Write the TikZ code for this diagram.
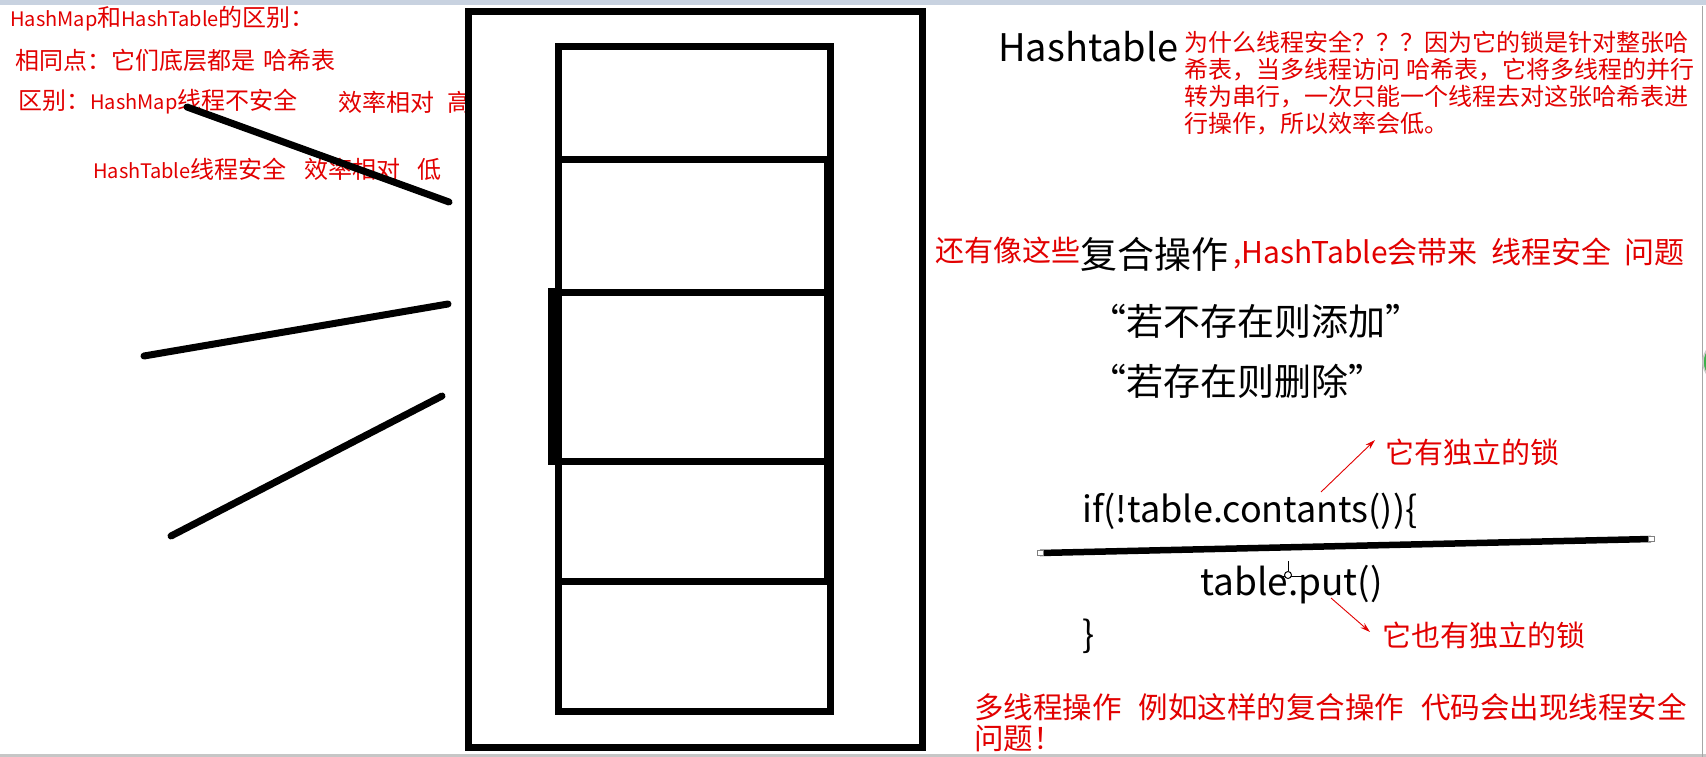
\documentclass[tikz,border=0pt]{standalone}
\usepackage{fontspec}
\setmainfont{Noto Sans CJK SC}
\usetikzlibrary{arrows.meta}
\definecolor{rd}{RGB}{226,0,0}
\definecolor{topbar}{RGB}{200,210,224}
\newcommand\fsz[1]{\fontsize{#1}{#1}\selectfont}
\newcommand\latn[1]{{\fontsize{20}{20}\selectfont #1}}
\begin{document}
\begin{tikzpicture}[x=1pt,y=-1pt,
  redL/.style={text=rd, inner sep=0pt, anchor=west},
  redS/.style={redL, font=\fsz{24}},
  blkL/.style={text=black, inner sep=0pt, anchor=west},
  stroke/.style={line width=7pt, line cap=round},
  cell/.style={line width=7pt},
  thinarrow/.style={draw=rd, line width=0.9pt, -{Stealth[length=10pt,width=6pt]}},
  handle/.style={draw=gray, fill=white, line width=0.7pt, minimum width=6pt, minimum height=5pt, inner sep=0pt}
]
\useasboundingbox (0,0) rectangle (1706,757);
\fill[white] (0,0) rectangle (1706,757);
% screenshot frame
\fill[topbar] (0,0) rectangle (1706,5);
\fill[gray!45] (0,754) rectangle (1706,757);
\draw[gray!70, line width=1pt] (1702,6) -- (1702,757);
\begin{scope}
\clip (0,0) rectangle (1706,757);
\draw[gray!40, line width=1.5pt, fill={rgb,255:red,60;green,176;blue,74}] (1724,362) circle (21);
\end{scope}

% left red notes
\node[redS] (t1) at (10,19) {\latn{HashMap}和\latn{HashTable}的区别：};
\node[redS] (t2) at (15,60) {相同点：它们底层都是\hspace{8pt}哈希表};
\node[redS] (t3) at (18,102) {区别：\latn{HashMap}线程不安全};
\node[redS] (t3b) at (338,102) {效率相对\hspace{13pt}高};
\node[redS] (t4) at (93,169) {\latn{HashTable}线程安全\hspace{18pt}效率相对\hspace{17pt}低};

% hand strokes
\coordinate (s1a) at (187,107); \coordinate (s1b) at (449,202);
\coordinate (s2a) at (144,356); \coordinate (s2b) at (448,304);
\coordinate (s3a) at (171,536); \coordinate (s3b) at (442,396);
\draw[stroke] (s1a) -- (s1b);
\draw[stroke] (s2a) -- (s2b);
\draw[stroke] (s3a) -- (s3b);

% outer frame
\draw[cell] (468.5,11.5) rectangle (922.5,747);
% inner table
\draw[cell] (558,46.5) rectangle (830,711);
\draw[cell] (558,160) -- (830,160);
\draw[cell] (558,292) -- (830,292);
\draw[cell] (558,461.5) -- (830,461.5);
\draw[cell] (558,581.5) -- (830,581.5);
\draw[line width=9pt] (828.5,160) -- (828.5,581.5);
\fill (548,288) rectangle (562,465);

% right side
\node[blkL, font=\fsz{38}] (ht) at (998,47) {Hashtable};
\node[text=rd, inner sep=0pt, anchor=north west, align=left, font=\fontsize{24}{27}\selectfont] (why) at (1184,31)
  {为什么线程安全？？？因为它的锁是针对整张哈\\希表，当多线程访问\hspace{6pt}哈希表，它将多线程的并行\\转为串行，一次只能一个线程去对这张哈希表进\\行操作，所以效率会低。};

\node[redL, font=\fsz{29}] (also) at (935,250) {还有像这些};
\node[blkL, font=\fsz{37}] (comp) at (1080,254) {复合操作};
\node[redL, font=\fsz{30}] (bring) at (1233,254) {,HashTable会带来\hspace{14pt}线程安全\hspace{13pt}问题};
\node[blkL, font=\fsz{37}] (q1) at (1089,321) {“若不存在则添加”};
\node[blkL, font=\fsz{37}] (q2) at (1089,381) {“若存在则删除”};

\node[redL, font=\fsz{29}] (lock1) at (1385,452) {它有独立的锁};
\node[blkL, font=\fsz{36}] (iff) at (1082,511) {if(!table.contants())\{};
\coordinate (pL) at (1040,553); \coordinate (pR) at (1651,539);
\draw[line width=6.5pt] (pL) -- (pR);
\node[handle] (hL) at (pL) {};
\node[handle] (hR) at (pR) {};
\node[blkL, font=\fsz{37}] (put) at (1200,585) {table.put()};
\node[blkL, font=\fsz{36}] (brace) at (1082,636) {\}};
\node[redL, font=\fsz{29}] (lock2) at (1382,635) {它也有独立的锁};

\coordinate (a1s) at (1321,492); \coordinate (a1e) at (1375,440);
\draw[thinarrow] (a1s) -- (a1e);
\coordinate (a2s) at (1331,598); \coordinate (a2e) at (1370,632);
\draw[thinarrow] (a2s) -- (a2e);

% cursor
\draw[line width=1pt] (1288,561) -- (1288,571);
\draw[line width=1pt] (1282,576) -- (1303,576);
\draw[line width=1pt, fill=white] (1288,575) circle (3.5);

\node[text=rd, inner sep=0pt, anchor=north west, align=left, font=\fontsize{29.5}{31}\selectfont] (multi) at (974,693)
  {多线程操作\hspace{17pt}例如这样的复合操作\hspace{17pt}代码会出现线程安全\\问题！};
\end{tikzpicture}
\end{document}
